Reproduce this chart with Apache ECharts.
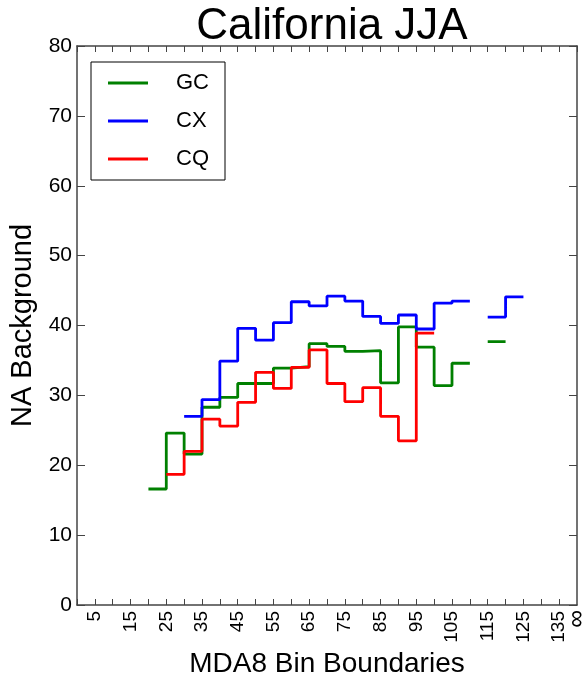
<!DOCTYPE html>
<html>
<head>
<meta charset="utf-8">
<script src="https://cdn.jsdelivr.net/npm/echarts@6/dist/echarts.min.js"></script>
<style>
  html, body { margin: 0; padding: 0; background: #fff; }
  #chart { width: 586px; height: 677px; }
</style>
</head>
<body>
<div id="chart"></div>
<script>
// bin starts, each bin is 5 wide
var binStart = [20, 25, 30, 35, 40, 45, 50, 55, 60, 65, 70, 75, 80, 85, 90, 95, 100, 105, 110, 115, 120]
var binWidth = 5
var gc = [16.6, 24.6, 21.6, 28.3, 29.7, 31.7, 31.7, 33.9, 34.1, 37.4, 37.0, 36.3, 36.4, 31.8, 39.8, 36.9, 31.4, 34.6, null, 37.7, null]
var cx = [null, null, 27.0, 29.4, 34.9, 39.6, 37.9, 40.4, 43.4, 42.8, 44.2, 43.5, 41.3, 40.3, 41.5, 39.5, 43.2, 43.5, null, 41.2, 44.1]
var cq = [null, 18.7, 22.0, 26.6, 25.6, 29.0, 33.3, 31.0, 34.0, 36.5, 31.7, 29.1, 31.1, 27.0, 23.5, 38.9, null, null, null, null, null]
var xTickMax = 140

// turn bin values into step points, '-' breaks the line
function steps(vals) {
  var pts = []
  for (var i = 0; i < vals.length; i++) {
    if (vals[i] === null) {
      pts.push([binStart[i], '-'])
      continue
    }
    pts.push([binStart[i], vals[i]])
    pts.push([binStart[i] + binWidth, vals[i]])
  }
  return pts
}

var font = 'Liberation Sans, Arial, sans-serif'
var frame = '#444'
var chart = echarts.init(document.getElementById('chart'))

function lineSeries(name, color, vals) {
  return {
    name: name,
    type: 'line',
    data: steps(vals),
    showSymbol: false,
    connectNulls: false,
    lineStyle: { color: color, width: 2.8 },
    itemStyle: { color: color },
    animation: false
  }
}

var labelBase = { rotate: 90, margin: 6, fontFamily: font, fontSize: 19, color: '#000' }

chart.setOption({
  animation: false,
  title: {
    text: 'California JJA',
    left: 327,
    top: 0,
    textAlign: 'center',
    textStyle: { fontFamily: font, fontSize: 44, fontWeight: 'normal', color: '#000' }
  },
  legend: {
    orient: 'vertical',
    left: 91,
    top: 62,
    padding: [10, 16, 10, 17],
    itemGap: 16,
    itemWidth: 40,
    itemHeight: 3,
    icon: 'rect',
    borderColor: '#000',
    borderWidth: 1,
    borderRadius: 0,
    textStyle: { fontFamily: font, fontSize: 22, color: '#000', padding: [0, 0, 0, 23] },
    data: ['GC', 'CX', 'CQ']
  },
  grid: { left: 77, right: 9, top: 46, bottom: 72, containLabel: false, outerBoundsMode: 'none' },
  xAxis: [{
    type: 'value',
    min: 0,
    max: xTickMax,
    interval: 5,
    name: 'MDA8 Bin Boundaries',
    nameLocation: 'middle',
    nameGap: 44,
    nameTextStyle: { fontFamily: font, fontSize: 28, color: '#000' },
    axisLine: { onZero: false, lineStyle: { color: frame, width: 1.5 } },
    axisTick: { inside: true, length: 6, lineStyle: { color: frame } },
    splitLine: { show: false },
    axisLabel: Object.assign({}, labelBase, {
      showMaxLabel: false,
      formatter: function (v) {
        return v % 10 === 5 ? String(v) : ''
      }
    })
  }, {
    // second bottom axis only for the last boundary label
    type: 'value',
    position: 'bottom',
    min: 0,
    max: xTickMax,
    interval: 5,
    axisLine: { show: false, onZero: false },
    axisTick: { show: false },
    splitLine: { show: false },
    axisLabel: Object.assign({}, labelBase, {
      showMaxLabel: true,
      fontSize: 25,
      margin: 5,
      formatter: function (v) {
        return v === xTickMax ? '∞' : ''
      }
    })
  }, {
    type: 'value',
    position: 'top',
    min: 0,
    max: xTickMax,
    interval: 5,
    axisLine: { show: true, onZero: false, lineStyle: { color: frame, width: 1.5 } },
    axisTick: { show: true, inside: true, length: 6, lineStyle: { color: frame } },
    axisLabel: { show: false },
    splitLine: { show: false }
  }],
  yAxis: [{
    type: 'value',
    min: 0,
    max: 80,
    interval: 10,
    name: 'NA Background',
    nameLocation: 'middle',
    nameGap: 32,
    nameTextStyle: { fontFamily: font, fontSize: 29, color: '#000' },
    axisLine: { show: true, onZero: false, lineStyle: { color: frame, width: 1.5 } },
    axisTick: { show: true, inside: true, length: 8, lineStyle: { color: frame } },
    splitLine: { show: false },
    axisLabel: { margin: 5, fontFamily: font, fontSize: 21, color: '#000' }
  }, {
    type: 'value',
    position: 'right',
    min: 0,
    max: 80,
    interval: 10,
    axisLine: { show: true, onZero: false, lineStyle: { color: frame, width: 1.5 } },
    axisTick: { show: true, inside: true, length: 8, lineStyle: { color: frame } },
    axisLabel: { show: false },
    splitLine: { show: false }
  }],
  series: [
    lineSeries('GC', '#008000', gc),
    lineSeries('CX', '#0000ff', cx),
    lineSeries('CQ', '#ff0000', cq)
  ]
})
</script>
</body>
</html>
